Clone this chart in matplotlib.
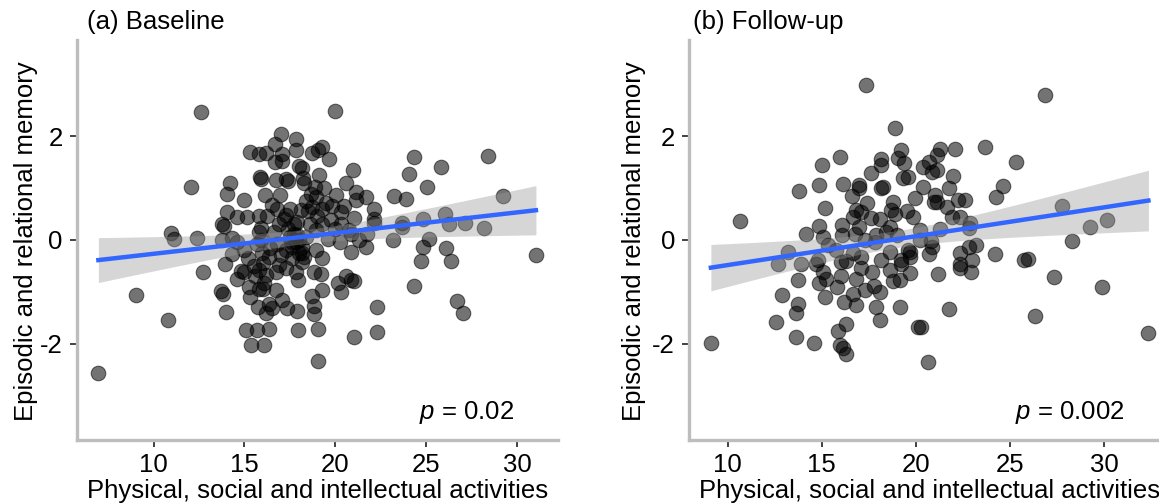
import numpy as np
import matplotlib.pyplot as plt

plt.rcParams['font.family'] = ['Liberation Sans', 'DejaVu Sans']
plt.rcParams['axes.unicode_minus'] = False
plt.rcParams['mathtext.fontset'] = 'custom'
plt.rcParams['mathtext.it'] = 'Liberation Sans:italic'
plt.rcParams['mathtext.rm'] = 'Liberation Sans'

# activities score / memory composite, baseline wave
base_x = [12.59, 6.96, 12.08, 10.94, 11.12, 12.37, 12.72, 9.05, 10.79,
          17.03, 17.86, 16.68, 17.86, 15.31, 15.80, 16.17, 17.05, 16.68, 17.09, 18.00,
          15.84, 15.91, 16.76, 17.27, 17.38, 14.19, 14.06, 16.13, 16.94, 15.00,
          16.54, 16.81, 15.80, 16.26, 17.27, 14.06, 14.61, 15.16, 18.10, 13.78,
          13.88, 17.91, 15.90, 15.80, 16.90, 17.73, 17.82, 13.78, 14.34, 14.61,
          15.71, 16.81, 17.64, 14.34, 13.91, 15.99, 16.35, 16.90, 17.27, 18.00,
          14.79, 14.98, 15.80, 16.17, 16.72, 17.86, 17.97, 15.25, 15.80, 16.08,
          16.72, 13.69, 13.82, 15.77, 16.35, 16.17, 16.54, 17.09, 17.36, 17.91,
          14.00, 15.07, 15.71, 16.35, 17.97, 15.38, 16.10, 18.28, 18.37, 18.28,
          17.50, 17.60, 17.40, 17.70, 17.30, 17.60, 17.20, 17.90,
          19.97, 18.74, 19.02, 19.29, 19.66, 18.19, 18.23, 19.11, 20.98, 24.34,
          25.81, 28.38, 24.06, 25.04, 20.61, 21.13, 21.13, 21.71, 20.03, 18.65,
          18.89, 18.92, 18.74, 19.29, 20.30, 21.04, 22.14, 22.14, 22.14, 23.24,
          23.88, 29.24, 23.66, 23.66, 24.80, 26.03, 26.27, 27.13, 28.19, 19.75,
          19.29, 18.92, 20.76, 20.85, 21.31, 21.68, 21.77, 19.62, 20.25, 20.85,
          23.18, 25.17, 24.80, 26.08, 24.74, 26.36, 31.04, 18.19, 18.19, 19.29,
          18.96, 18.19, 18.83, 19.20, 20.12, 20.61, 20.85, 21.04, 20.30, 19.29,
          18.74, 18.83, 18.83, 22.28, 24.34, 26.67, 27.04, 19.07, 21.04, 22.27, 19.04,
          15.20, 15.50, 15.00, 15.60, 16.00, 16.40, 15.30, 16.00, 14.60, 15.90,
          19.00, 19.50, 18.50, 20.00, 19.80, 18.60, 20.30, 19.40, 18.40, 20.50,
          17.50, 16.60, 17.00, 18.00]
base_y = [2.47, -2.56, 1.02, 0.14, 0.01, 0.04, -0.62, -1.07, -1.55,
          2.04, 1.95, 1.84, 1.73, 1.70, 1.65, 1.68, 1.66, 1.50, 1.52, 1.42,
          1.21, 1.18, 1.16, 1.18, 1.14, 1.09, 0.88, 0.86, 0.87, 0.76,
          0.67, 0.60, 0.46, 0.46, 0.48, 0.54, 0.44, 0.44, 0.57, 0.31,
          0.26, 0.35, 0.22, 0.15, 0.31, 0.12, -0.04, -0.01, 0.03, -0.04,
          -0.08, -0.08, -0.13, -0.28, -0.46, -0.26, -0.33, -0.49, -0.55, -0.26,
          -0.60, -0.63, -0.58, -0.68, -0.62, -0.62, -0.78, -0.91, -0.94, -0.84,
          -0.97, -0.99, -1.05, -1.29, -1.23, -1.42, -1.32, -1.16, -1.32, -1.37,
          -1.40, -1.73, -1.73, -1.71, -1.74, -2.02, -2.02, 1.09, 0.06, -0.33,
          0.05, -0.05, 0.20, 0.30, -0.20, -0.35, 0.40, 0.10,
          2.49, 1.68, 1.74, 1.78, 1.55, 1.39, 1.20, 1.25, 1.34, 1.59,
          1.41, 1.61, 1.27, 1.02, 1.09, 0.93, 0.76, 0.82, 0.87, 0.89,
          1.02, 0.83, 0.64, 0.60, 0.54, 0.42, 0.60, 0.41, 0.33, 0.84,
          0.78, 0.84, 0.33, 0.24, 0.41, 0.49, 0.31, 0.33, 0.23, 0.38,
          0.31, 0.19, 0.19, 0.12, -0.01, -0.13, 0.12, 0.01, -0.04, -0.24,
          0.00, 0.01, -0.13, -0.16, -0.40, -0.40, -0.29, -0.13, -0.26, -0.36,
          -0.20, -0.42, -0.62, -0.66, -0.83, -0.70, -0.78, -0.79, -1.00, -0.97,
          -1.09, -1.28, -1.43, -1.29, -0.89, -1.18, -1.42, -1.72, -1.87, -1.77, -2.34,
          -0.35, -0.50, -0.20, -0.70, -0.45, -0.15, -1.10, -0.95, -0.75, 0.00,
          0.45, 0.70, 0.55, 0.20, 0.65, 0.30, 0.30, 1.00, 0.75, 0.65,
          0.60, 0.15, -0.30, 0.00]

# same measures at follow-up
follow_x = [17.36, 18.91, 10.64, 9.11, 15.99, 15.01, 13.80, 14.87, 16.11, 16.95,
            16.95, 17.63, 18.13, 18.13, 19.06, 19.23, 19.36, 19.32, 19.59, 18.16,
            18.25, 15.17, 16.60, 16.83, 16.65, 17.10, 17.63, 18.07, 18.66, 18.79,
            18.88, 19.86, 19.95, 14.15, 14.87, 15.04, 16.06, 16.06, 16.74, 17.27,
            17.90, 17.81, 18.61, 18.97, 15.31, 15.76, 13.21, 12.67, 13.89, 14.78,
            14.69, 16.03, 16.65, 17.10, 17.10, 18.16, 18.61, 19.23, 19.68, 19.68,
            13.71, 15.04, 15.22, 16.03, 14.87, 15.80, 17.68, 18.61, 18.79, 12.91,
            15.19, 16.17, 16.68, 16.83, 17.27, 17.75, 18.07, 17.86, 19.14, 13.76,
            13.62, 12.58, 18.07, 16.26, 15.85, 13.62, 14.60, 15.94, 16.11, 16.29, 20.13,
            26.86, 21.28, 22.08, 23.64, 25.29, 21.10, 20.71, 20.36, 20.84, 21.14,
            21.94, 20.39, 21.02, 20.93, 21.10, 21.73, 21.64, 22.21, 22.62, 21.91,
            22.32, 22.89, 22.80, 24.62, 24.26, 27.75, 29.25, 30.16, 28.27, 21.28,
            20.78, 20.84, 20.21, 20.21, 20.71, 22.32, 22.80, 23.21, 22.98, 22.32,
            22.32, 22.94, 24.19, 25.74, 25.97, 21.16, 27.31, 29.89, 21.73, 26.31,
            20.25, 20.66, 32.34, 19.59, 19.68, 19.23, 19.14,
            17.00, 17.40, 16.30, 18.40, 19.50, 16.80]
follow_y = [2.98, 2.15, 0.37, -1.98, 1.59, 1.44, 0.94, 1.05, 1.07, 1.05,
            0.99, 1.28, 1.55, 1.44, 1.57, 1.73, 1.48, 1.20, 1.21, 0.99,
            1.01, 0.62, 0.84, 0.57, 0.44, 0.54, 0.42, 0.40, 0.57, 0.73,
            0.49, 0.44, 0.80, 0.12, 0.26, 0.06, 0.28, 0.10, 0.12, -0.01,
            0.09, -0.04, 0.25, 0.09, -0.10, -0.20, -0.23, -0.46, -0.46, -0.38,
            -0.46, -0.42, -0.26, -0.33, -0.55, -0.38, -0.23, -0.39, -0.23, -0.64,
            -0.78, -0.62, -0.75, -0.70, -0.84, -0.91, -0.62, -0.58, -0.79, -1.07,
            -1.10, -1.19, -1.05, -1.26, -0.97, -0.89, -1.00, -1.30, -1.30, -1.23,
            -1.42, -1.59, -1.55, -1.63, -1.75, -1.87, -1.98, -2.03, -2.09, -2.20, -1.68,
            2.79, 1.75, 1.75, 1.78, 1.50, 1.63, 1.50, 1.41, 1.31, 1.34,
            1.23, 1.01, 0.86, 0.73, 0.73, 1.00, 0.64, 0.77, 0.77, 0.44,
            0.44, 0.32, 0.22, 1.04, 0.82, 0.66, 0.24, 0.38, -0.02, 0.20,
            -0.02, -0.13, 0.19, 0.00, -0.28, -0.26, -0.13, -0.10, -0.39, -0.46,
            -0.55, -0.62, -0.28, -0.39, -0.37, -0.65, -0.71, -0.90, -1.34, -1.46,
            -1.68, -2.35, -1.80, -0.20, -0.33, -0.46, -0.78,
            0.25, 0.70, -0.40, 0.15, 0.55, -0.75]

titles = ['(a) Baseline', '(b) Follow-up']
p_labels = ['$p$ = 0.02', '$p$ = 0.002']
x_ticks = [10, 15, 20, 25, 30]
y_ticks = [-2, 0, 2]
x_title = 'Physical, social and intellectual activities'
y_title = 'Episodic and relational memory'


def lm_band(x, y, n=100, t=1.97):
    # linear fit with 95% confidence band, like geom_smooth(method = "lm")
    x = np.asarray(x)
    y = np.asarray(y)
    slope, icept = np.polyfit(x, y, 1)
    res = y - (icept + slope * x)
    s = np.sqrt(np.sum(res ** 2) / (len(x) - 2))
    grid = np.linspace(x.min(), x.max(), n)
    se = s * np.sqrt(1 / len(x) + (grid - x.mean()) ** 2 / np.sum((x - x.mean()) ** 2))
    fit = icept + slope * grid
    return grid, fit, fit - t * se, fit + t * se


fig = plt.figure(figsize=(11.59, 5.03), dpi=100)
W, H = 1159, 503
panel_left = [76.5, 689]
panel_w = 481.3
ax_bottom = (H - 439.6) / H
ax_h = 399.6 / H
title_x = [87, 693]
ylab_x = [26, 634]
p_x = [0.909, 0.904]

for i, (xs, ys) in enumerate([(base_x, base_y), (follow_x, follow_y)]):
    ax = fig.add_axes([panel_left[i] / W, ax_bottom, panel_w / W, ax_h])
    ax.scatter(xs, ys, s=110, c='black', alpha=0.55, linewidths=0.8, zorder=2)
    gx, fit, lo, hi = lm_band(xs, ys)
    ax.fill_between(gx, lo, hi, color='#999999', alpha=0.4, linewidth=0, zorder=3)
    ax.plot(gx, fit, color='#3366FF', lw=3.2, zorder=4)

    xr = max(xs) - min(xs)
    ax.set_xlim(min(xs) - 0.05 * xr, max(xs) + 0.05 * xr)
    ax.set_ylim(-3.85, 3.85)
    ax.set_xticks(x_ticks)
    ax.set_yticks(y_ticks)

    for side in ['top', 'right']:
        ax.spines[side].set_visible(False)
    for side in ['left', 'bottom']:
        ax.spines[side].set_color('#bdbdbd')
        ax.spines[side].set_linewidth(2.4)
    ax.tick_params(direction='out', length=5, width=1.3, color='#333333',
                   labelsize=18.5, labelcolor='black', pad=5)

    ax.set_xlabel(x_title, fontsize=18.5, labelpad=1)
    ax.text(p_x[i], 0.067, p_labels[i], transform=ax.transAxes,
            ha='right', va='center', fontsize=18.5)

    fig.text(title_x[i] / W, 1 - 22 / H, titles[i], ha='left', va='center', fontsize=18.5)
    fig.text(ylab_x[i] / W, 1 - 241 / H, y_title, rotation=90,
             ha='center', va='center', fontsize=18.5)

fig.savefig('out.png', dpi=100)
